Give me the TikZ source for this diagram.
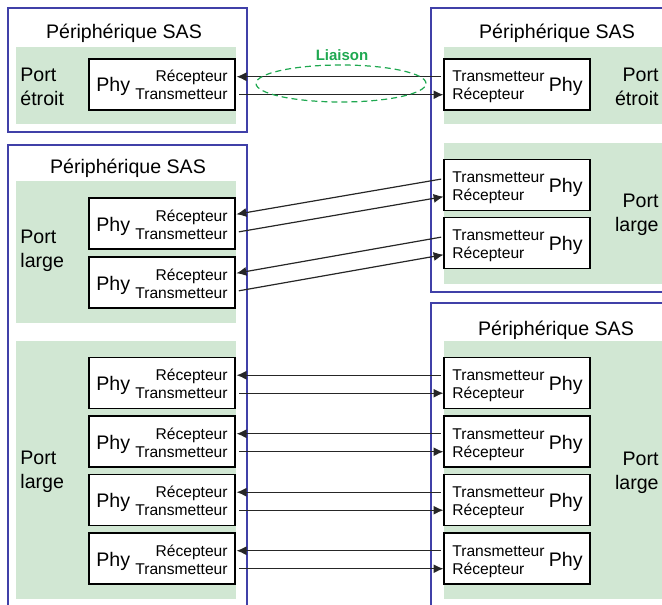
\documentclass[tikz,border=0pt]{standalone}
\usepackage{fontspec}
\setmainfont{Liberation Sans}
\usetikzlibrary{arrows.meta,shapes.geometric}
\definecolor{sasblue}{RGB}{64,64,168}
\definecolor{portgreen}{RGB}{209,231,211}
\definecolor{linkgreen}{RGB}{30,168,80}
\begin{document}
\begin{tikzpicture}[x=0.5pt, y=-0.5pt,
        device/.style={draw=sasblue, line width=0.75pt},
        title/.style={font=\fontsize{9.8}{12}\selectfont, inner sep=0, anchor=base},
        portname/.style={font=\fontsize{9.8}{12}\selectfont, inner sep=0},
        phybox/.style={draw, fill=white, line width=0.7pt, minimum width=73pt, minimum height=25.5pt, inner sep=0},
        phy/.style={font=\fontsize{9.8}{12}\selectfont, inner sep=0},
        sig/.style={font=\fontsize{7.8}{9}\selectfont, inner sep=0},
        link/.style={line width=0.6pt, black!85, shorten <=5.5pt, shorten >=4.25pt, -{Latex[length=5pt,width=4.5pt]}},
        liaisonring/.style={draw=linkgreen, ellipse, dash pattern=on 3pt off 2pt, line width=0.6pt, minimum width=85pt, minimum height=18.5pt, inner sep=0}
    ]
    \useasboundingbox (0,0) rectangle (662,604);
    \clip (0,0) rectangle (662,604);

    % port areas
    \fill[portgreen] (16,47) rectangle (236,124);
    \fill[portgreen] (16,181) rectangle (236,323);
    \fill[portgreen] (16,341) rectangle (236,599);
    \fill[portgreen] (444,47) rectangle (680,124);
    \fill[portgreen] (444,143) rectangle (680,284);
    \fill[portgreen] (444,341) rectangle (680,599);

    % SAS devices
    \draw[device] (8,8) rectangle (247,132);
    \draw[device] (8,145) rectangle (247,620);
    \draw[device] (431,8) rectangle (680,292);
    \draw[device] (431,303) rectangle (680,620);

    \node[title] (devTL) at (124,39) {Périphérique SAS};
    \node[title] (devBL) at (128,174) {Périphérique SAS};
    \node[title] (devTR) at (557,39) {Périphérique SAS};
    \node[title] (devBR) at (556,335) {Périphérique SAS};

    \node[portname, anchor=west, align=left] (portTL) at (20,87) {Port\\étroit};
    \node[portname, anchor=west, align=left] (portML) at (20,251) {Port\\large};
    \node[portname, anchor=west, align=left] (portBL) at (20,472) {Port\\large};
    \node[portname, anchor=east, align=right] (portTR) at (659,87) {Port\\étroit};
    \node[portname, anchor=east, align=right] (portMR) at (659,215) {Port\\large};
    \node[portname, anchor=east, align=right] (portBR) at (659,473) {Port\\large};

    % phys, left side
    \foreach \n/\y in {a/84.5, b/223.5, c/282.5, d/383, e/441.5, f/500, g/558.5} {
        \node[phybox] (phyL\n) at (162,\y) {};
        \node[phy, anchor=base west] (nameL\n) at (96,\y+7.5) {Phy};
        \node[sig, anchor=base east] (rxL\n) at (228,\y-2.5) {Récepteur};
        \node[sig, anchor=base east] (txL\n) at (228,\y+15.5) {Transmetteur};
    }
    % phys, right side
    \foreach \n/\y in {a/84.5, b/185, c/243, d/383, e/441.5, f/500, g/558.5} {
        \node[phybox] (phyR\n) at (517,\y) {};
        \node[phy, anchor=base east] (nameR\n) at (583,\y+7.5) {Phy};
        \node[sig, anchor=base west] (txR\n) at (452,\y-2.5) {Transmetteur};
        \node[sig, anchor=base west] (rxR\n) at (452,\y+15.5) {Récepteur};
    }

    % links
    \foreach \n in {a,...,g} {
        \draw[link] (txR\n.mid west) -- (rxL\n.mid east);
        \draw[link] (txL\n.mid east) -- (rxR\n.mid west);
    }

    \node[liaisonring] (liaison) at (341,83.5) {};
    \node[font=\bfseries\fontsize{7.5}{9}\selectfont, text=linkgreen, inner sep=0, anchor=base] (liaisonlabel) at (342,61) {Liaison};
\end{tikzpicture}
\end{document}
